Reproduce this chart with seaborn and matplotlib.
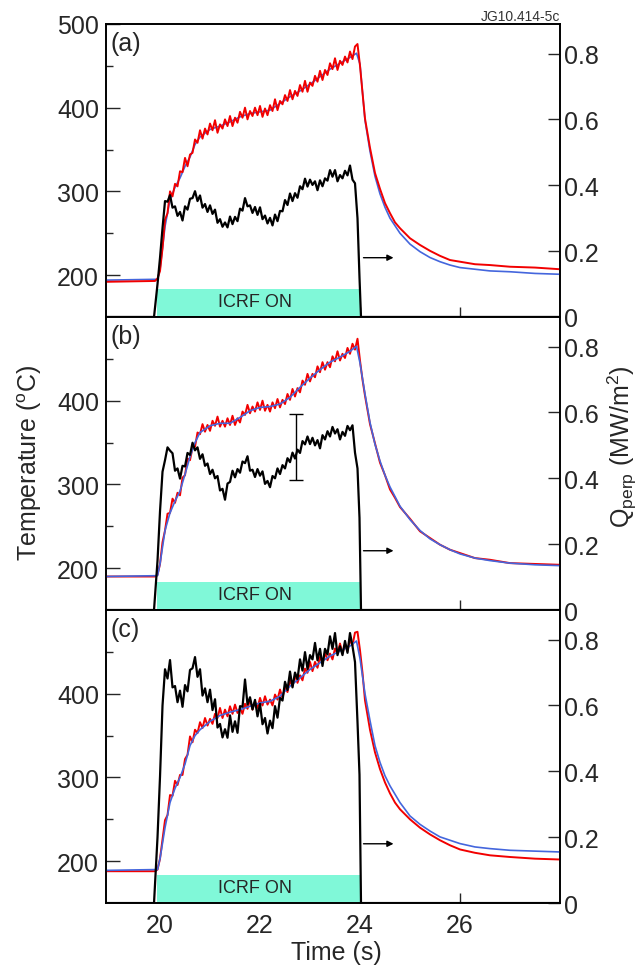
import matplotlib
matplotlib.use("Agg")
import matplotlib.pyplot as plt
import seaborn as sns

sns.set_style("ticks")
plt.rcParams["font.family"] = ["Liberation Sans", "DejaVu Sans"]
plt.rcParams["mathtext.fontset"] = "custom"
plt.rcParams["mathtext.rm"] = "Liberation Sans"
plt.rcParams["mathtext.it"] = "Liberation Sans:italic"

# -------------------------------------------------------
# Data (time in s, temperature in oC, Qperp in MW/m2)
# -------------------------------------------------------
t_pre = [18.92, 19.90, 19.95, 20.00, 20.05]
t_on = [20.10, 20.15, 20.20, 20.25, 20.30, 20.35, 20.40, 20.45, 20.50, 20.55,
        20.60, 20.65, 20.70, 20.75, 20.80, 20.85, 20.90, 20.95, 21.00, 21.05,
        21.10, 21.15, 21.20, 21.25, 21.30, 21.35, 21.40, 21.45, 21.50, 21.55,
        21.60, 21.65, 21.70, 21.75, 21.80, 21.85, 21.90, 21.95, 22.00, 22.05,
        22.10, 22.15, 22.20, 22.25, 22.30, 22.35, 22.40, 22.45, 22.50, 22.55,
        22.60, 22.65, 22.70, 22.75, 22.80, 22.85, 22.90, 22.95, 23.00, 23.05,
        23.10, 23.15, 23.20, 23.25, 23.30, 23.35, 23.40, 23.45, 23.50, 23.55,
        23.60, 23.65, 23.70, 23.75, 23.80, 23.85, 23.90]
t_post = [23.95, 24.00, 24.05, 24.10, 24.20, 24.30, 24.40, 24.50, 24.60, 24.70, 24.80,
          25.00, 25.20, 25.40, 25.60, 25.80, 26.00, 26.30, 26.60, 27.00, 27.50, 28.00]
t_blk_pre = [18.92, 19.88, 19.95, 20.00, 20.05]
t_blk_post = [23.95, 23.99, 24.02, 28.00]
t_blue = [18.92, 19.95, 20.0, 20.1, 20.2, 20.3, 20.4, 20.5, 20.6, 20.7, 20.8, 21.0,
          21.2, 21.4, 21.6, 21.8, 22.0, 22.2, 22.4, 22.6, 22.8, 23.0, 23.2, 23.4,
          23.6, 23.8, 23.93, 24.0, 24.1, 24.2, 24.3, 24.4, 24.5, 24.6, 24.8, 25.0,
          25.2, 25.4, 25.6, 25.8, 26.0, 26.3, 26.6, 27.0, 27.5, 28.0]

# panel (a)
red_a_pre = [192, 193, 196, 205, 232]
red_a_on = [266, 274, 300, 294, 309, 306, 324, 323, 340, 330,
            344, 346, 362, 358, 373, 363, 375, 368, 381, 373,
            385, 370, 380, 375, 386, 378, 390, 378, 388, 382,
            395, 388, 400, 386, 396, 390, 400, 391, 402, 389,
            399, 391, 403, 396, 410, 397, 408, 404, 415, 408,
            421, 410, 420, 414, 427, 419, 432, 419, 430, 426,
            438, 431, 444, 433, 445, 439, 453, 446, 459, 445,
            456, 451, 461, 454, 467, 458, 473]
red_a_post = [476, 450, 418, 387, 352, 322, 303, 286, 274, 263, 256,
              244, 236, 229, 223, 218, 216, 213, 212, 210, 209, 207]
blue_a = [194, 195, 207, 258, 290, 305, 316, 330, 341, 356, 365, 374,
          378, 383, 389, 393, 395, 397, 405, 413, 420, 428, 437, 446,
          453, 460, 465, 452, 385, 348, 318, 297, 281, 268, 250, 237,
          228, 221, 216, 212, 209, 207, 205, 204, 202, 201]
blk_a_pre = [0, 0, 0.10, 0.18, 0.27]
blk_a_on = [.352, .350, .370, .332, .336, .307, .319, .293, .336, .326,
            .359, .361, .382, .352, .369, .332, .343, .319, .339, .313,
            .326, .286, .297, .274, .287, .272, .305, .282, .304, .291,
            .329, .323, .361, .336, .339, .316, .334, .310, .333, .297,
            .308, .284, .301, .278, .311, .291, .322, .321, .355, .340,
            .375, .352, .376, .362, .397, .388, .420, .396, .417, .401,
            .412, .385, .415, .397, .421, .414, .446, .426, .446, .412,
            .431, .421, .444, .430, .460, .417, .406]
blk_a_post = [0.30, 0.12, 0, 0]

# panel (b)
red_b_pre = [190, 190, 192, 205, 231]
red_b_on = [245, 265, 266, 283, 278, 290, 287, 308, 311, 331,
            329, 344, 345, 362, 360, 372, 363, 371, 364, 376,
            370, 381, 369, 376, 369, 379, 371, 382, 371, 379,
            374, 387, 383, 395, 385, 393, 387, 398, 389, 400,
            388, 395, 387, 398, 391, 402, 392, 401, 396, 408,
            401, 414, 405, 415, 410, 424, 419, 432, 423, 432,
            428, 441, 434, 446, 437, 446, 440, 453, 447, 459,
            448, 456, 451, 463, 456, 468, 461]
red_b_post = [474, 448, 425, 406, 372, 349, 326, 311, 294, 284, 273,
              259, 244, 236, 228, 222, 218, 212, 210, 206, 205, 204]
blue_b = [190, 191, 205, 245, 266, 280, 292, 312, 333, 350, 362, 370,
          373, 373, 380, 388, 392, 393, 396, 404, 416, 427, 437, 446,
          452, 459, 465, 445, 408, 374, 348, 328, 311, 297, 274, 258,
          245, 235, 228, 222, 217, 212, 209, 206, 204, 203]
blk_b_pre = [0, 0, 0.15, 0.30, 0.42]
blk_b_on = [.455, .494, .484, .476, .423, .430, .399, .438, .436, .477,
            .471, .508, .485, .494, .459, .473, .438, .445, .413, .426,
            .400, .407, .363, .368, .335, .384, .389, .423, .403, .428,
            .417, .451, .446, .467, .423, .426, .404, .428, .408, .421,
            .383, .392, .373, .407, .400, .430, .413, .440, .430, .461,
            .449, .478, .460, .487, .477, .513, .503, .527, .504, .523,
            .500, .516, .491, .531, .518, .543, .527, .556, .536, .549,
            .518, .541, .529, .559, .546, .561, .478]
blk_b_post = [0.43, 0.28, 0, 0]

# panel (c)
red_c_pre = [188, 188, 190, 203, 226]
red_c_on = [249, 255, 279, 278, 296, 291, 303, 303, 322, 327,
            349, 342, 357, 353, 366, 359, 371, 362, 370, 364,
            376, 371, 383, 371, 381, 373, 385, 376, 387, 377,
            383, 376, 388, 382, 393, 381, 391, 383, 395, 386,
            397, 387, 393, 386, 399, 393, 405, 395, 408, 402,
            416, 409, 422, 413, 422, 416, 430, 425, 438, 427,
            438, 431, 444, 437, 449, 440, 448, 441, 454, 448,
            460, 448, 459, 451, 464, 458, 473]
red_c_post = [474, 452, 425, 392, 357, 330, 310, 294, 281, 270, 262,
              250, 240, 232, 225, 219, 214, 210, 207, 205, 203, 202]
blue_c = [189, 190, 203, 240, 270, 287, 300, 316, 338, 350, 357, 367,
          374, 378, 381, 385, 389, 391, 397, 409, 419, 429, 437, 445,
          451, 457, 463, 442, 400, 368, 338, 318, 302, 290, 270, 254,
          244, 236, 229, 225, 221, 217, 215, 213, 212, 211]
blk_c_pre = [0, 0, 0.20, 0.384, 0.60]
blk_c_on = [.710, .682, .738, .655, .659, .610, .645, .596, .662, .643,
            .708, .713, .747, .687, .710, .630, .652, .610, .648, .586,
            .619, .533, .544, .503, .528, .502, .570, .520, .552, .517,
            .598, .596, .679, .603, .625, .588, .617, .567, .605, .543,
            .562, .515, .554, .531, .598, .563, .623, .615, .672, .647,
            .703, .655, .700, .680, .740, .706, .762, .711, .753, .740,
            .790, .737, .772, .720, .772, .755, .810, .772, .820, .753,
            .780, .753, .796, .760, .820, .780, .732]
blk_c_post = [0.55, 0.39, 0, 0]

# ICRF window, arrow and error bar
icrf_span = [19.93, 24.01]
icrf_top = 183
arrow_t = [24.07, 24.67]
arrow_q = 0.18
err_t = [22.71]
err_q = [0.496]
err_dq = [0.100]

panel_labels = ["(a)", "(b)", "(c)"]
x_ticks = [20, 22, 24, 26]
q_ticks = [0, 0.2, 0.4, 0.6, 0.8]
q_ticklabels = ["0", "0.2", "0.4", "0.6", "0.8"]

RED = "#f20000"
BLUE = "#4466dd"
ICRF = "#80f8d8"

panels = [
    dict(red=red_a_pre + red_a_on + red_a_post, blue=blue_a,
         blk=blk_a_pre + blk_a_on + blk_a_post, blue_top=False,
         yticks=[200, 300, 400, 500]),
    dict(red=red_b_pre + red_b_on + red_b_post, blue=blue_b,
         blk=blk_b_pre + blk_b_on + blk_b_post, blue_top=True,
         yticks=[200, 300, 400]),
    dict(red=red_c_pre + red_c_on + red_c_post, blue=blue_c,
         blk=blk_c_pre + blk_c_on + blk_c_post, blue_top=True,
         yticks=[200, 300, 400]),
]
t_red = t_pre + t_on + t_post
t_blk = t_blk_pre + t_on + t_blk_post

# -------------------------------------------------------
# Figure
# -------------------------------------------------------
fig = plt.figure(figsize=(6.41, 9.70), dpi=100)
left, width, height = 0.1654, 0.7082, 0.3021
bottoms = [0.6722, 0.3701, 0.0680]

for i, p in enumerate(panels):
    ax = fig.add_axes([left, bottoms[i], width, height])
    ax.fill_between(icrf_span, 150, icrf_top, color=ICRF, lw=0, zorder=1)
    ax.text(sum(icrf_span) / 2 - 0.07, 168, "ICRF ON", ha="center", va="center",
            fontsize=13, zorder=2)

    z_red, z_blue = (3, 4) if p["blue_top"] else (4, 3)
    sns.lineplot(x=t_red, y=p["red"], ax=ax, color=RED, lw=1.4,
                 estimator=None, sort=False, zorder=z_red)
    sns.lineplot(x=t_blue, y=p["blue"], ax=ax, color=BLUE, lw=1.2,
                 estimator=None, sort=False, zorder=z_blue)

    ax.set_xlim(18.92, 28.0)
    ax.set_ylim(150, 500)
    ax.set_xticks(x_ticks)
    ax.set_yticks(p["yticks"])
    ax.set_yticks([250, 350, 450], minor=True)
    ax.tick_params(axis="x", direction="in", length=7, width=1, labelsize=18,
                   pad=7, top=False, labelbottom=(i == 2))
    ax.tick_params(axis="y", which="major", direction="in", length=10, width=1,
                   labelsize=18, pad=5, right=False)
    ax.tick_params(axis="y", which="minor", direction="in", length=5, width=1,
                   right=False)
    ax.set_xlabel("")
    ax.set_ylabel("")
    ax.text(0.009, 0.975, panel_labels[i], transform=ax.transAxes,
            ha="left", va="top", fontsize=18)

    ax2 = ax.twinx()
    sns.lineplot(x=t_blk, y=p["blk"], ax=ax2, color="black", lw=1.6,
                 estimator=None, sort=False)
    ax2.set_ylim(0, 0.89)
    ax2.set_yticks(q_ticks)
    ax2.set_yticklabels(q_ticklabels)
    ax2.tick_params(axis="y", direction="in", length=9, width=1, labelsize=18, pad=3)
    ax2.set_ylabel("")
    ax2.annotate("", xy=(arrow_t[1], arrow_q), xytext=(arrow_t[0], arrow_q),
                 arrowprops=dict(arrowstyle="-|>", color="black", lw=1,
                                 mutation_scale=9, shrinkA=0, shrinkB=0))
    if i == 1:
        ax2.errorbar(err_t, err_q, yerr=err_dq, fmt="none", ecolor="black",
                     elinewidth=1, capsize=5, capthick=1)

    for a in (ax, ax2):
        for s in a.spines.values():
            s.set_linewidth(1.2)
            s.set_color("black")

fig.text(30 / 641, 1 - 463 / 970, r"Temperature ($^{\rm o}$C)", rotation=90,
         ha="center", va="center", fontsize=18)
fig.text(622 / 641, 1 - 447 / 970, r"Q$_{\rm perp}$ (MW/m$^2$)", rotation=90,
         ha="center", va="center", fontsize=18)
fig.text(336 / 641, 1 - 953 / 970, "Time (s)", ha="center", va="center", fontsize=18)
fig.text(560 / 641, 1 - 17 / 970, "JG10.414-5c", ha="right", va="center",
         fontsize=10, color="#333333")

fig.savefig("out.png", dpi=100)
